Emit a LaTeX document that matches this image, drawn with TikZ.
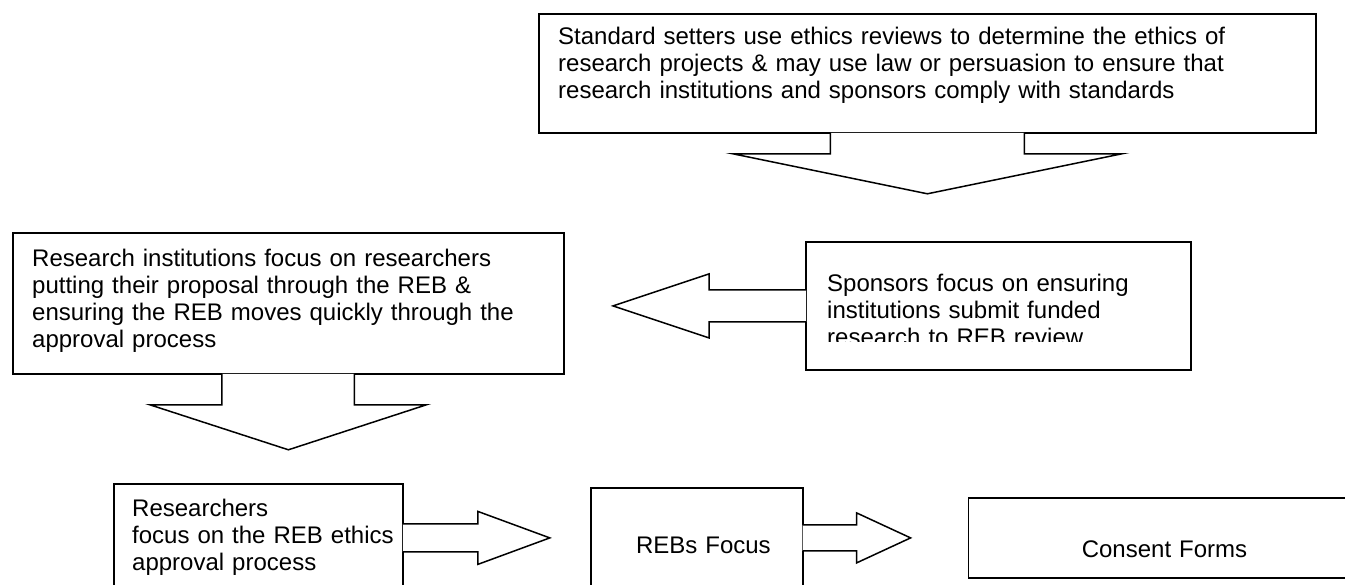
\documentclass[tikz,border=0pt]{standalone}
\usepackage{fontspec}
\setmainfont{Liberation Sans}
\usepackage{tikz}
\usetikzlibrary{positioning}

\begin{document}
\begin{tikzpicture}[x=1pt, y=-1pt, every node/.style={font=\fontsize{24}{27}\selectfont},
    box/.style={draw, line width=1.8pt, inner sep=0pt},
    boxtext/.style={inner sep=0pt, text width=#1, align=left, anchor=base west},
    blockarrow/.style={draw, fill=white, line width=1.5pt}]
  \useasboundingbox (0,0) rectangle (1345,585);
  \clip (0,0) rectangle (1345,585);
  \node[box, anchor=north west, minimum width=777pt, minimum height=119pt] (std) at (538,13) {};
  \node[box, anchor=north west, minimum width=551pt, minimum height=141pt] (inst) at (12,232) {};
  \node[box, anchor=north west, minimum width=385pt, minimum height=128pt] (spon) at (805,241) {};
  \node[box, anchor=north west, minimum width=289pt, minimum height=108pt] (res) at (113,483) {};
  \node[box, right=186pt of res, minimum width=212pt, minimum height=100pt] (rebs) {};
  \node[box, right=164pt of rebs, minimum width=392pt, minimum height=80pt] (cons) {};

  \node[boxtext=740pt] (stdtext) at ([xshift=20pt,yshift=-32pt]std.north west) {Standard setters use ethics reviews to determine the ethics of\\research projects \& may use law or persuasion to ensure that\\research institutions and sponsors comply with standards};
  \node[boxtext=540pt] (insttext) at ([xshift=20pt,yshift=-35pt]inst.north west) {Research institutions focus on researchers\\putting their proposal through the REB \&\\ensuring the REB moves quickly through the\\approval process};
  \begin{scope}
    \clip (spon.north west) rectangle ([yshift=29pt]spon.south east);
    \node[boxtext=360pt] (spontext) at ([xshift=22pt,yshift=-51pt]spon.north west) {Sponsors focus on ensuring\\institutions submit funded\\research to REB review};
  \end{scope}
  \node[boxtext=280pt] (restext) at ([xshift=19pt,yshift=-33pt]res.north west) {Researchers\\focus on the REB ethics\\approval process};
  \node[boxtext=200pt] (rebstext) at ([xshift=46pt,yshift=-66pt]rebs.north west) {REBs Focus};
  \node[boxtext=200pt] (constext) at ([xshift=114pt,yshift=-60pt]cons.north west) {Consent Forms};

  % arrow tips
  \coordinate (stdtip) at ([yshift=-60pt]std.south);
  \coordinate (insttip) at ([yshift=-75pt]inst.south);
  \coordinate (spontip) at ([xshift=-192pt]spon.west);
  \coordinate (restip) at ([xshift=146pt]res.east);
  \coordinate (rebstip) at ([xshift=107pt]rebs.east);

  \draw[blockarrow] ([xshift=-97pt,yshift=1pt]std.south) -- ++(0,21) -- ++(-97.5,0) -- (stdtip) -- ++(194.5,-40) -- ++(-97.5,0) -- ++(0,-21);
  \draw[blockarrow] ([xshift=-66.5pt,yshift=1pt]inst.south) -- ++(0,31) -- ++(-72,0) -- (insttip) -- ++(138,-45) -- ++(-72,0) -- ++(0,-31);
  \draw[blockarrow] ([xshift=1pt,yshift=16pt]spon.west) -- ++(-97,0) -- ++(0,-16) -- (spontip) -- ++(96,32) -- ++(0,-16) -- ++(97,0);
  \draw[blockarrow] ([xshift=-1pt,yshift=14pt]res.east) -- ++(75,0) -- ++(0,-12.5) -- (restip) -- ++(-72,26.5) -- ++(0,-12.5) -- ++(-75,0);
  \draw[blockarrow] ([xshift=-1pt,yshift=13pt]rebs.east) -- ++(54,0) -- ++(0,-12) -- (rebstip) -- ++(-54,25) -- ++(0,-12) -- ++(-54,0);
\end{tikzpicture}
\end{document}
